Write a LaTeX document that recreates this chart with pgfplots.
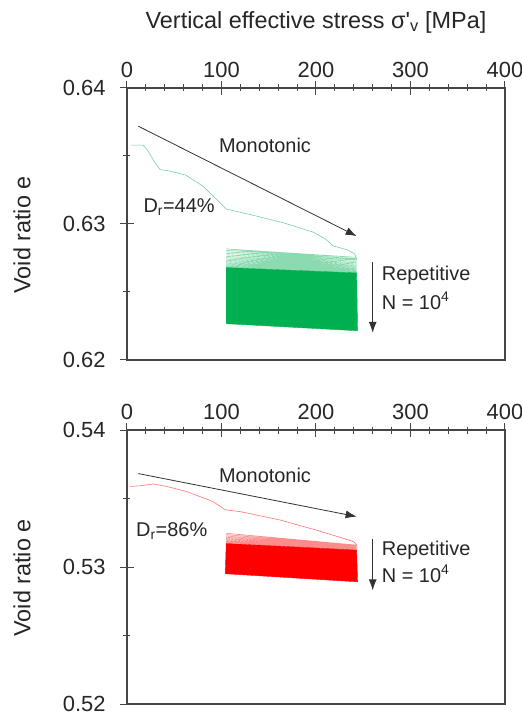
\documentclass[border=0pt]{standalone}
\usepackage{pgfplots}
\pgfplotsset{compat=1.18}
\usepackage{fontspec}
\setmainfont{Liberation Sans}
\usetikzlibrary{arrows.meta}

\definecolor{cycgreen}{RGB}{0,176,80}
\definecolor{cycred}{RGB}{255,0,0}
\definecolor{axisgray}{RGB}{70,70,70}

\newcommand{\tickfont}{\fontsize{22}{26}\selectfont}
\newcommand{\notefont}{\fontsize{20}{24}\selectfont}
\newcommand{\labelfont}{\fontsize{23.5}{28}\selectfont}
\newcommand{\straightprime}{{\addfontfeatures{Ligatures=TeXOff}'}}

\tikzset{
  note/.style={font=\notefont, text=black!85},
  loadarrow/.style={black!80, line width=0.8bp, -{Latex[length=11bp, width=8bp]}},
}

\pgfplotsset{
  soilaxis/.style={
    scale only axis, width=378bp,
    xmin=0, xmax=400, xtick={0,100,...,400}, minor x tick num=4,
    xtick pos=right, xticklabel pos=right, ytick pos=left,
    tick align=center, major tick length=14bp, minor tick length=7bp,
    every tick/.style={axisgray, line width=1bp},
    axis line style={axisgray, line width=1.3bp},
    ticklabel style={font=\tickfont, text=black!85},
    /pgf/number format/assume math mode=true,
    yticklabel style={/pgf/number format/fixed, /pgf/number format/precision=2,
      /pgf/number format/fixed zerofill, xshift=-11bp},
    minor y tick num=1,
    clip=false,
  },
  monotonic/.style={line width=0.6bp},
  sparse/.style={line width=0.6bp, opacity=0.45},
}

\begin{document}
\begin{tikzpicture}
\path[use as bounding box] (-127bp,-356bp) rectangle (395bp,360bp);

% Dr = 44 %
\begin{axis}[soilaxis, name=top, at={(0,0)}, anchor=south west, height=272bp,
  ymin=0.62, ymax=0.64, ytick={0.62,0.63,0.64}]
  % repeated loading cycles, dense part
  \addplot[fill=cycgreen, draw=cycgreen, line width=0.4bp] coordinates {
    (105,0.62680) (243,0.62640) (244,0.62215) (105,0.62267) (105,0.62680)};
  % repeated loading cycles, first loops
  \addplot[sparse, cycgreen] coordinates {
    (243,0.62740) (105,0.62817) (243,0.62755) (105,0.62806) (243,0.62745)
    (105,0.62795) (243,0.62735) (105,0.62784) (243,0.62725) (105,0.62773)
    (243,0.62715) (105,0.62762) (243,0.62706) (105,0.62752) (243,0.62697)
    (105,0.62742) (243,0.62689) (105,0.62733) (243,0.62681) (105,0.62724)
    (243,0.62673) (105,0.62715) (243,0.62666) (105,0.62707) (243,0.62659)
    (105,0.62699) (243,0.62652) (105,0.62691) (243,0.62646) (105,0.62684)
    (243,0.62641)};
  % monotonic loading
  \addplot[monotonic, cycgreen!55] coordinates {
    (4,0.6358) (17,0.6358) (22,0.6354) (28,0.6347) (35,0.6340) (45,0.6339)
    (62,0.6336) (80,0.6328) (95,0.6318) (105,0.6311) (130,0.6307) (165,0.6301)
    (197,0.6294) (210,0.6289) (218,0.6284) (233,0.6281) (241,0.6278) (243,0.6274)};

  \draw[loadarrow] (axis cs:12,0.63719) -- (axis cs:243,0.62911);
  \node[note, anchor=base] at (axis cs:146,0.63526) {Monotonic};
  \node[note, anchor=base west, inner sep=0pt]
    at (axis cs:17.3,0.63084) {D\textsubscript{r}=44\%};
  \draw[loadarrow] (axis cs:260,0.62719) -- (axis cs:260,0.6220);
  \node[note, anchor=base west, inner sep=0pt]
    at (axis cs:269.5,0.62585) {Repetitive};
  \node[note, anchor=base west, inner sep=0pt]
    at (axis cs:269.5,0.62373) {N = 10\textsuperscript{4}};

  \node[rotate=90, font=\labelfont, text=black!85] at (axis description cs:-0.278,0.46)
    {Void ratio e};
  \node[font=\labelfont, text=black!85] at ([yshift=66bp]axis description cs:0.5,1)
    {Vertical effective stress σ\straightprime\textsubscript{v} [MPa]};
\end{axis}

% Dr = 86 %
\begin{axis}[soilaxis, name=bottom, at={(0,-344bp)}, anchor=south west, height=274bp,
  ymin=0.52, ymax=0.54, ytick={0.52,0.53,0.54}]
  % repeated loading cycles, dense part
  \addplot[fill=cycred, draw=cycred, line width=0.4bp] coordinates {
    (105,0.53172) (243,0.53123) (244,0.52892) (104,0.52951) (105,0.53172)};
  % repeated loading cycles, first loops
  \addplot[sparse, cycred] coordinates {
    (243,0.53160) (105,0.53246) (243,0.53155) (105,0.53236) (243,0.53150)
    (105,0.53226) (243,0.53145) (105,0.53217) (243,0.53140) (105,0.53208)
    (243,0.53136) (105,0.53200) (243,0.53132) (105,0.53192) (243,0.53128)
    (105,0.53185) (243,0.53125) (105,0.53178) (243,0.53122)};
  % monotonic loading
  \addplot[monotonic, cycred!55] coordinates {
    (3,0.53588) (14,0.53593) (28,0.53606) (42,0.53588) (63,0.53551) (91,0.53478)
    (104,0.53417) (120,0.53404) (162,0.53343) (200,0.53270) (229,0.53209)
    (240,0.53184) (243,0.53160)};

  \draw[loadarrow] (axis cs:12,0.53682) -- (axis cs:243,0.53368);
  \node[note, anchor=base] at (axis cs:146,0.53618) {Monotonic};
  \node[note, anchor=base west, inner sep=0pt]
    at (axis cs:9.5,0.53221) {D\textsubscript{r}=86\%};
  \draw[loadarrow] (axis cs:260,0.53202) -- (axis cs:260,0.52829);
  \node[note, anchor=base west, inner sep=0pt]
    at (axis cs:269.5,0.53086) {Repetitive};
  \node[note, anchor=base west, inner sep=0pt]
    at (axis cs:269.5,0.52890) {N = 10\textsuperscript{4}};

  \node[rotate=90, font=\labelfont, text=black!85] at (axis description cs:-0.278,0.46)
    {Void ratio e};
\end{axis}
\end{tikzpicture}
\end{document}
